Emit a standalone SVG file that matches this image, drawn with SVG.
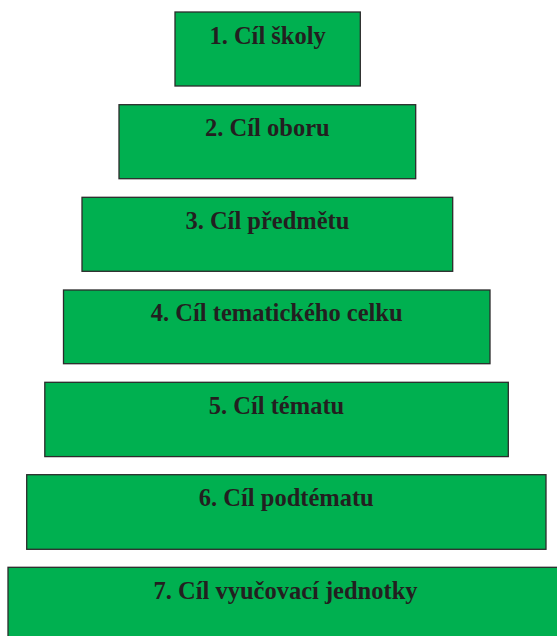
<svg xmlns="http://www.w3.org/2000/svg" width="557" height="636" viewBox="0 0 557 636">
<style>
.box{fill:#00B050;stroke:#2b2b2b;stroke-width:1.3}
.lbl{font-family:"Liberation Serif","Times New Roman",serif;font-weight:bold;font-size:24.5px;fill:#231f20;text-anchor:middle}
</style>
<rect width="557" height="636" fill="#ffffff"/>
<g id="n1"><rect class="box" x="175" y="12" width="185.3" height="74"/><text class="lbl" x="267.6" y="43.5">1. Cíl školy</text></g>
<g id="n2"><rect class="box" x="119" y="104.7" width="296.7" height="74"/><text class="lbl" x="267.4" y="136.1">2. Cíl oboru</text></g>
<g id="n3"><rect class="box" x="82" y="197.3" width="370.7" height="74"/><text class="lbl" x="267.4" y="228.7">3. Cíl předmětu</text></g>
<g id="n4"><rect class="box" x="63.5" y="290" width="426.5" height="73.7"/><text class="lbl" x="276.7" y="321.3">4. Cíl tematického celku</text></g>
<g id="n5"><rect class="box" x="44.8" y="382.3" width="463.5" height="74.3"/><text class="lbl" x="276.5" y="413.8">5. Cíl tématu</text></g>
<g id="n6"><rect class="box" x="26.7" y="474.7" width="519.3" height="74.6"/><text class="lbl" x="286.3" y="506.2">6. Cíl podtématu</text></g>
<g id="n7"><rect class="box" x="8" y="567.3" width="555" height="80"/><text class="lbl" x="285.5" y="599.3">7. Cíl vyučovací jednotky</text></g>
<g id="connectors"/>
</svg>
